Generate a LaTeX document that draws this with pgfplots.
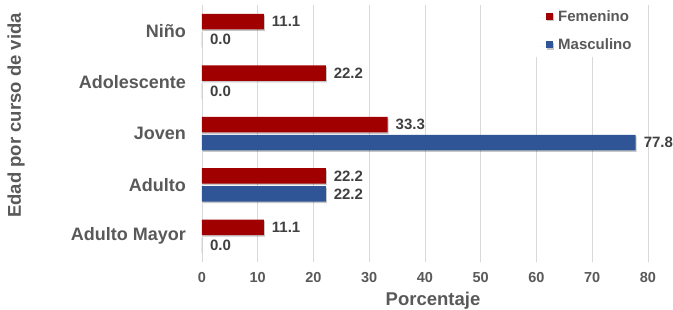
\documentclass[border=0pt]{standalone}
\usepackage{pgfplots}
\pgfplotsset{compat=1.18}
\usepackage{fontspec}
\setmainfont{Liberation Sans}
\definecolor{fem}{HTML}{A00000}
\definecolor{mas}{HTML}{2F5597}
\definecolor{txt}{HTML}{595959}
\definecolor{lbl}{HTML}{404040}
\definecolor{gridc}{HTML}{D9D9D9}
\begin{document}
\begin{tikzpicture}
\begin{axis}[
  at={(0pt,0pt)}, anchor=south west,
  scale only axis, width=446pt, height=257pt,
  xbar, bar width=15.5pt,
  xmin=0, xmax=80, ymin=-0.5, ymax=4.5,
  xtick={0,10,...,80},
  ytick={0,1,2,3,4},
  yticklabels={Adulto Mayor\hspace{6pt}, Adulto\hspace{6pt}, Joven\hspace{6pt}, Adolescente, Niño},
  axis line style={draw=none},
  major tick length=0pt,
  xmajorgrids, ymajorgrids=false,
  grid style={gridc, line width=0.8pt},
  /pgf/number format/assume math mode=true,
  xticklabel style={font=\bfseries\fontsize{14.5}{16}\selectfont, text=txt, anchor=center, yshift=-15.5pt, inner sep=0pt},
  yticklabel style={font=\bfseries\fontsize{18}{20}\selectfont, text=txt, anchor=east, xshift=-16pt, inner sep=0pt},
  every axis y label/.style={at={(axis description cs:-0.417,0.57)}, rotate=90, anchor=center},
  every axis x label/.style={at={(axis description cs:0.518,-0.171)}, anchor=base},
  ylabel={Edad por curso de vida},
  xlabel={Porcentaje},
  label style={font=\bfseries\fontsize{18.5}{20}\selectfont, text=txt},
  nodes near coords,
  point meta=x,
  nodes near coords style={font=\bfseries\fontsize{15}{17}\selectfont, text=lbl, anchor=west, xshift=4.5pt,
    /pgf/number format/.cd, fixed, fixed zerofill, precision=1, assume math mode=true},
  legend style={at={(axis description cs:0.7354,1)}, anchor=north west, yshift=1pt,
    draw=none, fill=white, font=\bfseries\fontsize{15}{17}\selectfont, text=txt,
    row sep=12pt, inner xsep=8pt, inner ysep=4pt},
  legend cell align=left,
]
\addplot[fill=fem, draw=none, bar shift=9pt,
  preaction={fill=black, opacity=0.22, transform canvas={xshift=1pt, yshift=-1.5pt}},
  legend image code/.code={\path[draw=none,fill=none] (0pt,0pt) -- (18pt,0pt); \fill[fem] (8pt,-3.5pt) rectangle (15pt,3.5pt);}]
  coordinates {(11.1,4) (22.2,3) (33.3,2) (22.2,1) (11.1,0)};
\addlegendentry{Femenino}
\addplot[fill=mas, draw=none, bar shift=-9pt,
  preaction={fill=black, opacity=0.22, transform canvas={xshift=1pt, yshift=-1.5pt}},
  legend image code/.code={\path[draw=none,fill=none] (0pt,0pt) -- (18pt,0pt); \fill[mas] (8pt,-3.5pt) rectangle (15pt,3.5pt);}]
  coordinates {(0,4) (0,3) (77.8,2) (22.2,1) (0,0)};
\addlegendentry{Masculino}
\end{axis}
\pgfresetboundingbox
\useasboundingbox (-202pt,-47pt) rectangle (471pt,262pt);
\end{tikzpicture}
\end{document}
